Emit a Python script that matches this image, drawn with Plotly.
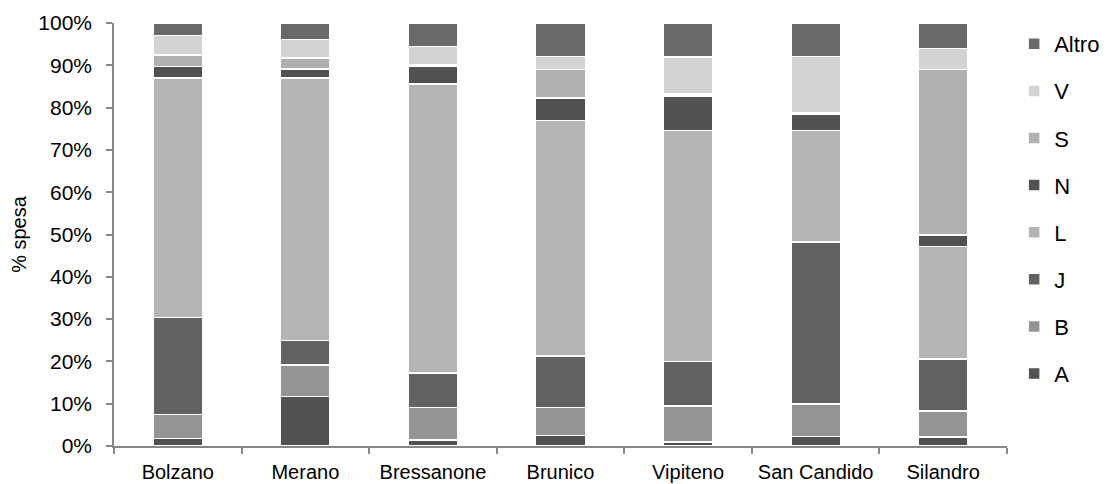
import plotly.graph_objects as go

categories = ["Bolzano", "Merano", "Bressanone", "Brunico", "Vipiteno", "San Candido", "Silandro"]

series_names = ["A", "B", "J", "L", "N", "S", "V", "Altro"]

A = [1.8, 11.7, 1.4, 2.5, 0.9, 2.2, 2.1]
B = [5.7, 7.4, 7.7, 6.6, 8.6, 7.7, 6.2]
J = [22.9, 5.8, 8.2, 12.2, 10.5, 38.3, 12.3]
L = [56.6, 62.1, 68.3, 55.7, 54.6, 26.4, 26.6]
N = [2.7, 2.1, 4.1, 5.3, 8.2, 3.9, 2.7]
S = [2.7, 2.6, 0.4, 6.7, 0.4, 0.4, 39.1]
V = [4.6, 4.4, 4.4, 3.1, 8.8, 13.2, 5.0]
Altro = [3.0, 3.9, 5.5, 7.9, 8.0, 7.9, 6.0]

y_ticks = [0, 10, 20, 30, 40, 50, 60, 70, 80, 90, 100]

values = [A, B, J, L, N, S, V, Altro]
colors = ["#515151", "#949494", "#626262", "#b4b4b4", "#515151", "#b0b0b0", "#d3d3d3", "#696969"]

FONT = "Liberation Sans, Arial, sans-serif"

fig = go.Figure()
for i, (name, vals, col) in enumerate(zip(series_names, values, colors)):
    fig.add_trace(go.Bar(
        x=categories, y=vals, name=name, legendgroup=name,
        legendrank=1000 - i,
        marker=dict(color=col, line=dict(color="#ffffff", width=1.5)),
    ))

# page body has an 8px default margin, so the figure is sized to fit the window
fig.update_layout(
    barmode="stack",
    bargap=0.61,
    width=1104, height=476,
    margin=dict(l=106, r=105, t=15, b=38, autoexpand=False),
    paper_bgcolor="white", plot_bgcolor="white",
    font=dict(family=FONT, size=20, color="#000000"),
    showlegend=True,
    legend=dict(
        traceorder="grouped", tracegroupgap=15.5,
        x=1.008, xanchor="left", y=1.0, yanchor="top",
        font=dict(size=22), itemwidth=30,
        bgcolor="rgba(0,0,0,0)",
    ),
    xaxis=dict(
        type="category", showline=True, linecolor="#868686", linewidth=1.5,
        ticks="outside", tickson="boundaries", ticklen=6, tickcolor="#868686",
        tickwidth=1.5, showgrid=False, zeroline=False, automargin=False,
        tickfont=dict(size=20), ticklabelstandoff=7,
    ),
    yaxis=dict(
        range=[0, 100], tickvals=y_ticks, ticktext=[f"{t}%" for t in y_ticks],
        showline=True, linecolor="#868686", linewidth=1.5,
        ticks="outside", ticklen=6, tickcolor="#868686", tickwidth=1.5,
        showgrid=False, zeroline=False, automargin=False,
        tickfont=dict(size=21), ticklabelstandoff=10,
        title=dict(text="% spesa", font=dict(size=20), standoff=10),
    ),
)

fig.write_html("out.html")
